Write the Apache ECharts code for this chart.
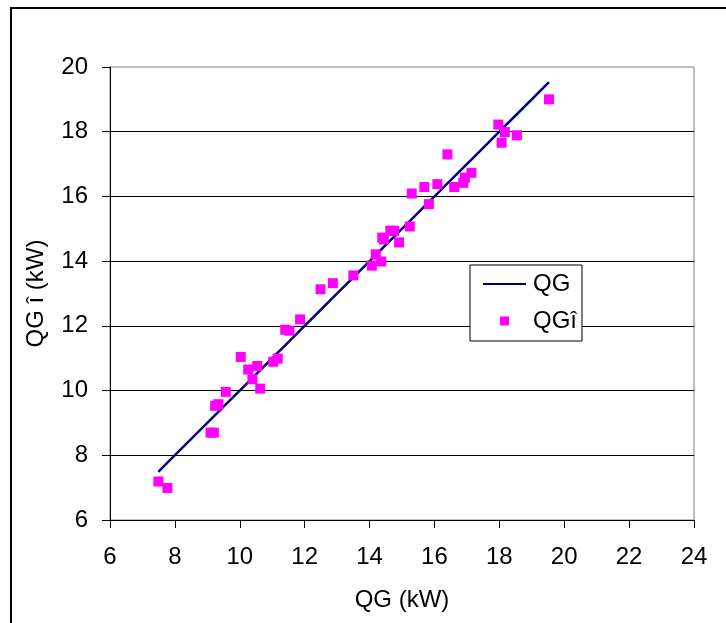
<!DOCTYPE html>
<html>
<head>
<meta charset="utf-8">
<style>
  html, body { margin: 0; padding: 0; background: #fff; }
  #chart { width: 726px; height: 623px; }
</style>
<script src="https://cdn.jsdelivr.net/npm/echarts@6/dist/echarts.min.js"></script>
</head>
<body>
<div id="chart"></div>
<script>
// Measured generator output QG (kW) and estimated output QGî (kW)
const qgMeasured = [
  7.49, 7.77, 9.10, 9.20, 9.24, 9.34, 9.57, 10.03, 10.26, 10.39,
  10.54, 10.63, 11.03, 11.17, 11.40, 11.53, 11.86, 12.49, 12.87, 13.50,
  14.07, 14.19, 14.36, 14.39, 14.44, 14.64, 14.76, 14.91, 15.24, 15.30,
  15.69, 15.83, 16.09, 16.40, 16.61, 16.89, 16.94, 17.14, 17.97, 18.07,
  18.17, 18.54, 19.53
];
const qgEstimated = [
  7.19, 6.99, 8.70, 8.70, 9.53, 9.58, 9.96, 11.04, 10.65, 10.35,
  10.76, 10.06, 10.89, 10.99, 11.88, 11.85, 12.20, 13.13, 13.32, 13.56,
  13.86, 14.21, 13.99, 14.73, 14.67, 14.94, 14.94, 14.58, 15.07, 16.09,
  16.29, 15.76, 16.38, 17.30, 16.29, 16.42, 16.58, 16.73, 18.22, 17.66,
  17.99, 17.89, 19.00
];
const xTicks = { min: 6, max: 24, step: 2 };
const yTicks = { min: 6, max: 20, step: 2 };

const FONT = 'Liberation Sans';

// Reference line QG = QG over the measured range, and the estimated points
const refLine = qgMeasured.slice().sort((a, b) => a - b).map(v => [v, v]);
const points = qgMeasured.map((v, i) => [v, qgEstimated[i]]);

const chart = echarts.init(document.getElementById('chart'), null, { renderer: 'canvas' });

chart.setOption({
  animation: false,
  backgroundColor: '#fff',
  textStyle: { fontFamily: FONT, color: '#000' },
  graphic: [{
    type: 'rect',
    shape: { x: 11, y: 8, width: 760, height: 660 },
    style: { fill: null, stroke: '#000', lineWidth: 2 },
    silent: true,
    z: 100
  }],
  grid: {
    left: 110, right: 32, top: 67, bottom: 103,
    show: true,
    borderColor: '#808080',
    borderWidth: 1,
    backgroundColor: '#fff'
  },
  legend: {
    left: 470, top: 265,
    orient: 'vertical',
    padding: [7, 5, 8, 13],
    itemGap: 13,
    itemWidth: 43,
    itemHeight: 9,
    symbolKeepAspect: true,
    backgroundColor: '#fff',
    borderColor: '#000',
    borderWidth: 1,
    borderRadius: 0,
    textStyle: { fontFamily: FONT, fontSize: 24, color: '#000', padding: [0, 0, 0, 2] },
    data: [
      { name: 'QG', icon: 'path://M0,0H40V2H0Z' },
      { name: 'QGî', icon: 'path://M0,0H10V10H0Z' }
    ]
  },
  xAxis: {
    type: 'value',
    min: xTicks.min, max: xTicks.max, interval: xTicks.step,
    name: 'QG (kW)',
    nameLocation: 'middle',
    nameGap: 68,
    nameTextStyle: { fontFamily: FONT, fontSize: 24, color: '#000' },
    axisLine: { show: true, onZero: false, lineStyle: { color: '#000', width: 1 } },
    axisTick: { show: true, length: 8, lineStyle: { color: '#000' } },
    axisLabel: { fontFamily: FONT, fontSize: 24, color: '#000', margin: 25 },
    splitLine: { show: false }
  },
  yAxis: {
    type: 'value',
    min: yTicks.min, max: yTicks.max, interval: yTicks.step,
    name: 'QG î (kW)',
    nameLocation: 'middle',
    nameGap: 62,
    nameRotate: 90,
    nameTextStyle: { fontFamily: FONT, fontSize: 24, color: '#000' },
    axisLine: { show: true, onZero: false, lineStyle: { color: '#000', width: 1 } },
    axisTick: { show: true, length: 8, lineStyle: { color: '#000' } },
    axisLabel: { fontFamily: FONT, fontSize: 24, color: '#000', margin: 22 },
    splitLine: {
      show: true,
      showMinLine: false,
      showMaxLine: false,
      lineStyle: { color: '#000', width: 1 }
    }
  },
  series: [
    {
      name: 'QG',
      type: 'line',
      data: refLine,
      symbol: 'none',
      showSymbol: false,
      lineStyle: { color: '#000080', width: 2.5 },
      itemStyle: { color: '#000080' },
      z: 3
    },
    {
      name: 'QGî',
      type: 'scatter',
      data: points,
      symbol: 'rect',
      symbolSize: 10,
      itemStyle: { color: '#FF00FF', opacity: 1 },
      z: 4
    }
  ]
});
</script>
</body>
</html>
